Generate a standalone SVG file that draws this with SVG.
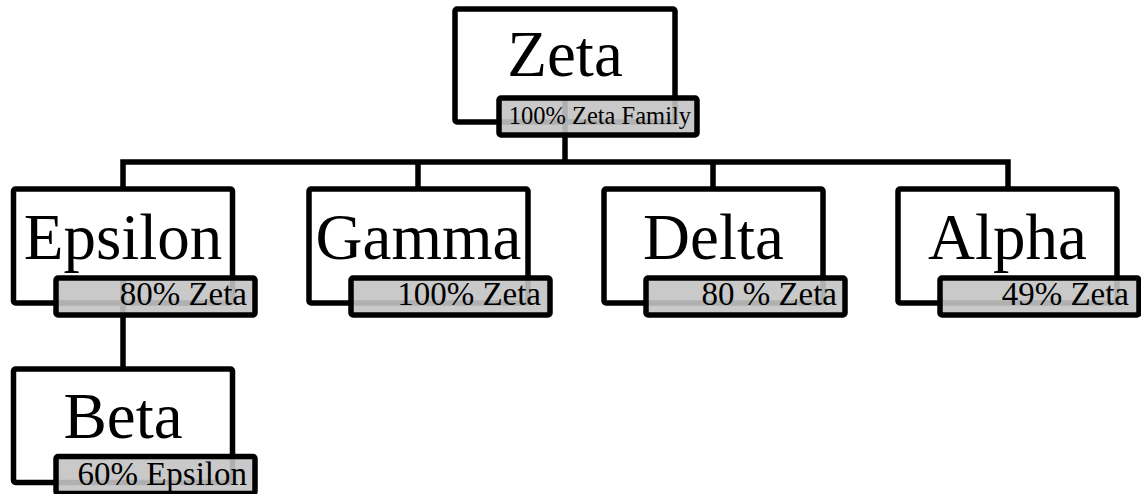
<svg xmlns="http://www.w3.org/2000/svg" width="1141" height="494" viewBox="0 0 1141 494">
<style>
.box{fill:#fff;stroke:#000;stroke-width:5.5;}
.lbl{fill:#c3c3c3;fill-opacity:0.9;stroke:#000;stroke-width:5.5;}
.con{fill:none;stroke:#000;stroke-width:5.5;stroke-linejoin:miter;}
.t{font-family:"Liberation Serif","Times New Roman",serif;font-size:65px;fill:#000;text-anchor:middle;}
.s{font-family:"Liberation Serif","Times New Roman",serif;font-size:33px;fill:#000;text-anchor:end;}
</style>
<rect width="1141" height="494" fill="#fff"/>
<g id="boxes-under">
<rect class="box" x="455" y="9" width="220" height="113" rx="2"/>
<rect class="box" x="13.5" y="189" width="219" height="114" rx="2"/>
<rect class="box" x="309" y="189" width="219" height="114" rx="2"/>
<rect class="box" x="604" y="189" width="219" height="114" rx="2"/>
<rect class="box" x="898" y="189" width="219" height="114" rx="2"/>
<rect class="box" x="13.5" y="369" width="219" height="113.5" rx="2"/>
</g>
<g id="connectors">
<path class="con" d="M565 98 V162"/>
<path class="con" d="M123 189 V162 H1008 V189"/>
<path class="con" d="M418 162 V189"/>
<path class="con" d="M713 162 V189"/>
<path class="con" d="M123 278 V369"/>
</g>
<g id="zeta">
<text class="t" x="565" y="76">Zeta</text>
<rect class="lbl" x="499" y="98" width="198" height="37" rx="2"/>
<text class="s" x="691" y="124" style="font-size:24.5px">100% Zeta Family</text>
</g>
<g id="epsilon">
<text class="t" x="123" y="259">Epsilon</text>
<rect class="lbl" x="56" y="278" width="199" height="37" rx="2"/>
<text class="s" x="247" y="305">80% Zeta</text>
</g>
<g id="gamma">
<text class="t" x="418.5" y="259">Gamma</text>
<rect class="lbl" x="351" y="278" width="199" height="37" rx="2"/>
<text class="s" x="541" y="305">100% Zeta</text>
</g>
<g id="delta">
<text class="t" x="713.5" y="259">Delta</text>
<rect class="lbl" x="646" y="278" width="199" height="37" rx="2"/>
<text class="s" x="837" y="305">80 % Zeta</text>
</g>
<g id="alpha">
<text class="t" x="1007.5" y="259">Alpha</text>
<rect class="lbl" x="940" y="278" width="199" height="37" rx="2"/>
<text class="s" x="1129" y="305">49% Zeta</text>
</g>
<g id="beta">
<text class="t" x="123" y="438">Beta</text>
<rect class="lbl" x="56" y="456.5" width="199" height="37" rx="2"/>
<text class="s" x="247" y="485">60% Epsilon</text>
</g>
</svg>
